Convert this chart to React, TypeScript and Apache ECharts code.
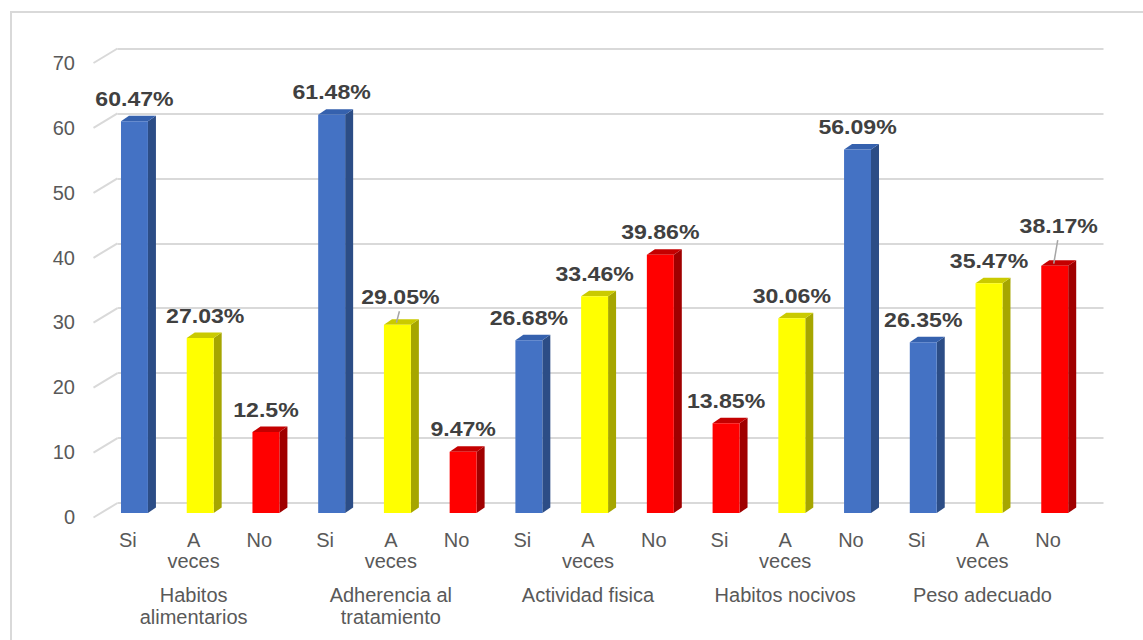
import React, { useEffect, useRef } from "react";
import * as echarts from "echarts";

// ---------- data ----------
const groupLabels = [
  "Habitos\nalimentarios",
  "Adherencia al\ntratamiento",
  "Actividad fisica",
  "Habitos nocivos",
  "Peso adecuado",
];
const answerLabels = ["Si", "A veces", "No"];

const habitosAlimentarios = [60.47, 27.03, 12.5];
const adherenciaTratamiento = [61.48, 29.05, 9.47];
const actividadFisica = [26.68, 33.46, 39.86];
const habitosNocivos = [13.85, 30.06, 56.09];
const pesoAdecuado = [26.35, 35.47, 38.17];

const yTicks = [0, 10, 20, 30, 40, 50, 60, 70];

// colour tone of each bar (Habitos nocivos has swapped colours)
const barTones = [
  "blue", "yellow", "red",
  "blue", "yellow", "red",
  "blue", "yellow", "red",
  "red", "yellow", "blue",
  "blue", "yellow", "red",
];

// ---------- styles ----------
const palette: Record<string, { front: string; side: string; top: string }> = {
  blue: { front: "#4472C4", side: "#2C4D86", top: "#3561AE" },
  yellow: { front: "#FFFF00", side: "#A6A600", top: "#CACA00" },
  red: { front: "#FF0000", side: "#A00000", top: "#C40000" },
};
const labelNudge: Record<number, { dx: number; dy: number; leader?: boolean }> = {
  1: { dx: 5, dy: 0 },
  4: { dx: 3, dy: -5, leader: true },
  14: { dx: 4, dy: -17, leader: true },
};
const DX = 8;
const DY = 5.5;
const GRID_COLOR = "#D9D9D9";
const TEXT_COLOR = "#595959";
const FONT = '"Liberation Sans", Arial, sans-serif';

const groupValues = [
  habitosAlimentarios,
  adherenciaTratamiento,
  actividadFisica,
  habitosNocivos,
  pesoAdecuado,
];
const values = groupValues.flat();
const barKeys = groupValues.flatMap((_, g) => answerLabels.map((a) => `${g}|${a}`));

export default function App() {
  const ref = useRef<HTMLDivElement>(null);

  useEffect(() => {
    if (!ref.current) return;
    const chart = echarts.init(ref.current, null, { renderer: "svg" });

    const option: any = {
      animation: false,
      backgroundColor: "#FFFFFF",
      graphic: [
        {
          type: "rect",
          shape: { x: 11, y: 12, width: 1300, height: 800 },
          style: { fill: "none", stroke: GRID_COLOR, lineWidth: 2 },
          silent: true,
          z: -10,
        },
      ],
      grid: [
        // front plane (axis labels)
        { left: 95, width: 986, top: 63, bottom: 123 },
        // back plane (gridlines)
        { left: 117.5, width: 986, top: 48.5, bottom: 137 },
        // bars plane
        { left: 101.6, width: 986, top: 59.5, bottom: 127 },
      ],
      xAxis: [
        {
          gridIndex: 0,
          type: "category",
          data: barKeys,
          axisLine: { show: false },
          axisTick: { show: false },
          axisLabel: {
            interval: 0,
            margin: 12,
            color: TEXT_COLOR,
            fontSize: 20,
            lineHeight: 21,
            fontFamily: FONT,
            formatter: (k: string) => k.split("|")[1].replace(" ", "\n"),
          },
        },
        {
          gridIndex: 0,
          type: "category",
          data: groupLabels,
          position: "bottom",
          offset: 0,
          axisLine: { show: false },
          axisTick: { show: false },
          axisLabel: {
            interval: 0,
            margin: 67,
            color: TEXT_COLOR,
            fontSize: 20,
            lineHeight: 22,
            fontFamily: FONT,
          },
        },
        {
          gridIndex: 1,
          type: "category",
          data: barKeys,
          show: false,
        },
        {
          gridIndex: 2,
          type: "category",
          data: barKeys,
          show: false,
        },
      ],
      yAxis: [
        {
          gridIndex: 0,
          type: "value",
          min: 0,
          max: 70,
          interval: 10,
          axisLine: { show: false },
          axisTick: { show: false },
          splitLine: { show: false },
          axisLabel: { margin: 20, color: TEXT_COLOR, fontSize: 20, fontFamily: FONT },
        },
        {
          gridIndex: 1,
          type: "value",
          min: 0,
          max: 70,
          interval: 10,
          axisLine: { show: false },
          axisTick: { show: false },
          axisLabel: { show: false },
          splitLine: { show: true, lineStyle: { color: GRID_COLOR, width: 2 } },
        },
        {
          gridIndex: 2,
          type: "value",
          min: 0,
          max: 70,
          show: false,
        },
      ],
      series: [
        {
          // diagonal lead-ins of the gridlines (3D side wall)
          type: "custom",
          xAxisIndex: 2,
          yAxisIndex: 1,
          silent: true,
          data: yTicks.map((v) => [0, v]),
          encode: { x: 0, y: 1 },
          renderItem: (params: any, api: any) => {
            const v = api.value(1);
            const p = api.coord([0, v]);
            const x = params.coordSys.x;
            return {
              type: "line",
              shape: { x1: x, y1: p[1], x2: x - 24, y2: p[1] + 14.5 },
              style: { stroke: GRID_COLOR, lineWidth: 2 },
            };
          },
          z: 1,
        },
        {
          type: "custom",
          xAxisIndex: 3,
          yAxisIndex: 2,
          silent: true,
          data: values.map((v, i) => [i, v]),
          encode: { x: 0, y: 1 },
          renderItem: (params: any, api: any) => {
            const idx = api.value(0) as number;
            const v = api.value(1) as number;
            const top = api.coord([idx, v]);
            const base = api.coord([idx, 0]);
            const band = (api.size([1, 0]) as number[])[0];
            const w = band * 0.41;
            const x0 = top[0] - w / 2;
            const x1 = top[0] + w / 2;
            const yT = top[1];
            const yB = base[1];
            const c = palette[barTones[idx]];
            const n = labelNudge[idx] || { dx: 0, dy: 0 };
            const lx = top[0] + n.dx;
            const ly = yT - DY - 17 + n.dy;
            const children: any[] = [
              {
                type: "polygon",
                shape: { points: [[x1, yT], [x1 + DX, yT - DY], [x1 + DX, yB - DY], [x1, yB]] },
                style: { fill: c.side },
              },
              {
                type: "polygon",
                shape: { points: [[x0, yT], [x0 + DX, yT - DY], [x1 + DX, yT - DY], [x1, yT]] },
                style: { fill: c.top },
              },
              {
                type: "rect",
                shape: { x: x0, y: yT, width: w, height: yB - yT },
                style: { fill: c.front },
              },
              {
                type: "text",
                x: lx,
                y: ly,
                scaleX: 1.1,
                style: {
                  text: `${v}%`,
                  align: "center",
                  verticalAlign: "middle",
                  fill: "#404040",
                  font: `bold 21px ${FONT}`,
                },
              },
            ];
            if (n.leader) {
              children.push({
                type: "line",
                shape: { x1: lx - 1, y1: ly + 14, x2: top[0] - 1, y2: yT - 2 },
                style: { stroke: "#A6A6A6", lineWidth: 1.5 },
              });
            }
            return { type: "group", children };
          },
          z: 2,
        },
      ],
    };

    chart.setOption(option);
    return () => chart.dispose();
  }, []);

  return (
    <div
      ref={ref}
      style={{ position: "fixed", left: 0, top: 0, width: 1143, height: 640, background: "#fff" }}
    />
  );
}
